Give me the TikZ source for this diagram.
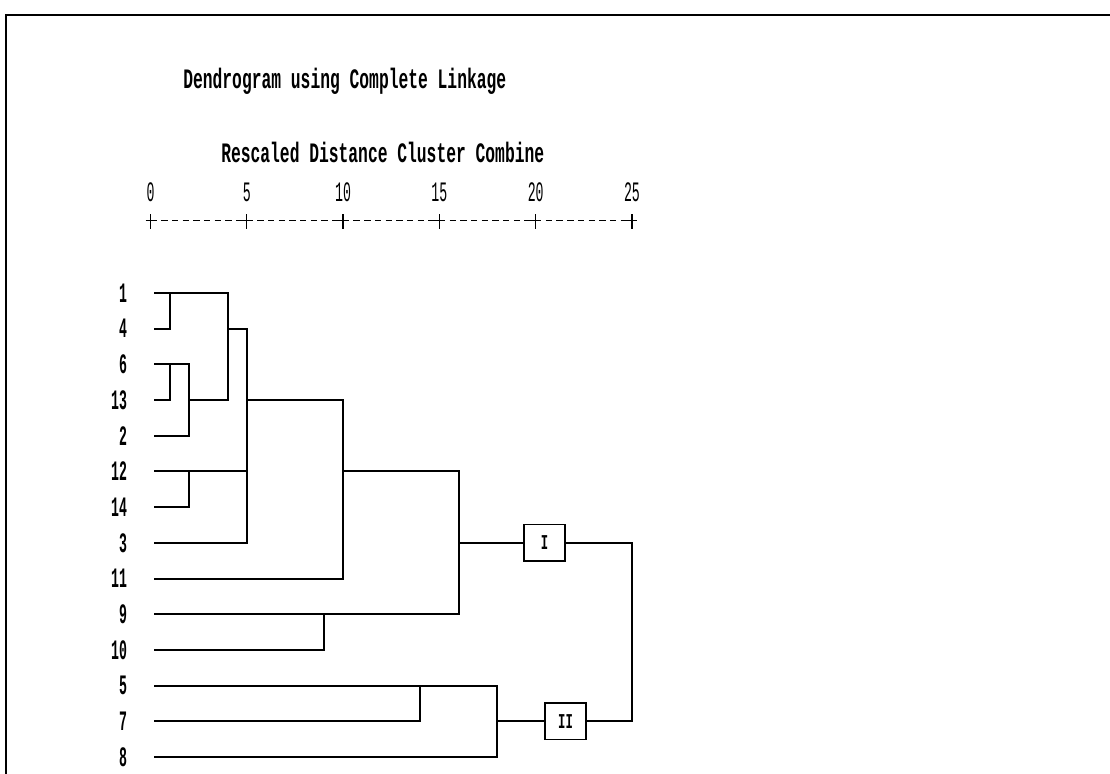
\documentclass[tikz,border=0pt]{standalone}
\usepackage{fontspec}
\newfontfamily\dendfont{Liberation Mono}[FakeStretch=0.47]
\newfontfamily\headfont{Liberation Mono}[FakeStretch=0.58]

\begin{document}
\begin{tikzpicture}[x=4.815mm, y=-8.925mm,
	branch/.style={line width=1.4pt, line cap=rect},
	leaflab/.style={font=\dendfont\bfseries\fontsize{20}{22}\selectfont, inner sep=0pt, anchor=east},
	scalelab/.style={font=\dendfont\fontsize{20}{22}\selectfont, inner sep=0pt},
	headlab/.style={font=\headfont\bfseries\fontsize{20}{22}\selectfont, inner sep=0pt},
	clusterbox/.style={draw, line width=1.2pt, fill=white, minimum width=29pt, minimum height=26pt, inner sep=0pt, font=\headfont\bfseries\fontsize{15}{17}\selectfont}]
	\useasboundingbox (-7.814,-7.207) rectangle (49.82,14.474);
	% frame
	\draw[line width=1.4pt] (-7.5,14.6) -- (-7.5,-6.79) -- (50,-6.79);
	% headings
	\node[headlab, anchor=base west] (title) at (1.69,-4.74) {Dendrogram using Complete Linkage};
	\node[headlab, anchor=west] (axistitle) at (3.66,-2.95) {Rescaled Distance Cluster Combine};
	% distance scale
	\draw[line width=0.9pt, dash pattern=on 4.5pt off 3.1pt] (0,-1.02) -- (25,-1.02);
	\foreach \d in {0,5,...,25} {
		\node[scalelab] (tick\d) at (\d,-1.83) {\d};
		\draw[line width=0.9pt] (\d,-1.21) -- (\d,-0.8);
		\draw[line width=0.9pt] (\d-0.25,-1.02) -- (\d+0.25,-1.02);
	}
	% cases, each with its own line
	\foreach \lab/\d [count=\r] in {1/4, 4/1, 6/2, 13/1, 2/2, 12/5, 14/2, 3/5, 11/10, 9/16, 10/9, 5/18, 7/14, 8/18} {
		\node[leaflab] (case\lab) at (-1.2,\r) {\lab};
		\coordinate (s\r) at (0.23,\r);
		\coordinate (e\r) at (\d,\r);
		\draw[branch] (s\r) -- (e\r);
	}
	% joins
	\draw[branch] (e2) -- (e2 |- s1);
	\draw[branch] (e4) -- (e4 |- s3);
	\draw[branch] (e3) -- (e5);
	\draw[branch] (e7) -- (e7 |- s6);
	\draw[branch] (e5 |- s4) -- (e1 |- s4) -- (e1);
	\draw[branch] (e1 |- s2) -- (e6 |- s2) -- (e8);
	\draw[branch] (e6 |- s4) -- (e9 |- s4) -- (e9);
	\draw[branch] (e11) -- (e11 |- s10);
	\draw[branch] (e9 |- s6) -- (e10 |- s6) -- (e10);
	\draw[branch] (e13) -- (e13 |- s12);
	\draw[branch] (e12) -- (e14);
	% the two clusters
	\node[clusterbox] (clI) at (20.46,8) {I};
	\node[clusterbox] (clII) at (21.55,13) {II};
	\coordinate (topI) at (25,8);
	\coordinate (botII) at (25,13);
	\draw[branch] (e10 |- s8) -- (clI);
	\draw[branch] (e12 |- s13) -- (clII);
	\draw[branch] (clI) -- (topI) -- (botII) -- (clII);
\end{tikzpicture}
\end{document}
